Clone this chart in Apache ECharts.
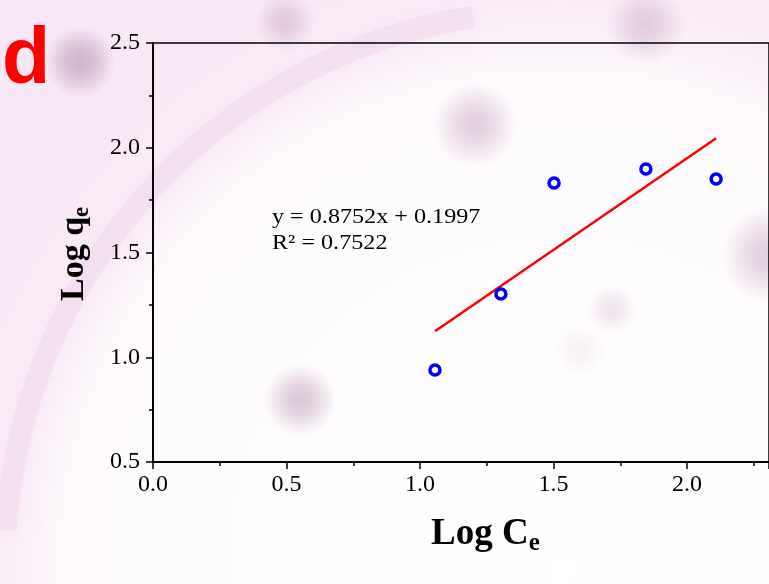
<!DOCTYPE html>
<html><head><meta charset="utf-8">
<script src="https://cdn.jsdelivr.net/npm/echarts@6/dist/echarts.min.js"></script>
<style>html,body{margin:0;padding:0;background:#fcf4fa}#c{width:769px;height:584px}</style>
</head><body><div id="c"></div>
<script>
// Data
const logCe = [1.056, 1.303, 1.502, 1.846, 2.109];
const logQe = [0.939, 1.302, 1.832, 1.899, 1.851];
const fitX = [1.056, 2.109];
const fitY = [1.124, 2.045];
const xTicks = ['0.0', '0.5', '1.0', '1.5', '2.0'];
const yTicks = ['0.5', '1.0', '1.5', '2.0', '2.5'];
const eqLines = ['y = 0.8752x + 0.1997', 'R² = 0.7522'];

const chart = echarts.init(document.getElementById('c'), null, {renderer: 'canvas'});
const serif = 'Liberation Serif';

function blob(x, y, r, rgb, a) {
  return {type: 'circle', silent: true, z: -10, shape: {cx: x, cy: y, r: r},
    style: {fill: new echarts.graphic.RadialGradient(0.5, 0.5, 0.5, [
      {offset: 0, color: 'rgba(' + rgb + ',' + a + ')'},
      {offset: 0.4, color: 'rgba(' + rgb + ',' + (a * 0.75) + ')'},
      {offset: 1, color: 'rgba(' + rgb + ',0)'}])}};
}
const bg = [
  {type: 'rect', silent: true, z: -20, shape: {x: 0, y: 0, width: 769, height: 584},
   style: {fill: '#f8e8f5'}},
  {type: 'circle', silent: true, z: -19, shape: {cx: 560, cy: 570, r: 620},
   style: {fill: new echarts.graphic.RadialGradient(0.5, 0.5, 0.5, [
     {offset: 0, color: 'rgba(255,255,255,1)'}, {offset: 0.8, color: 'rgba(254,251,253,0.95)'},
     {offset: 0.9, color: 'rgba(252,242,250,0.5)'}, {offset: 1, color: 'rgba(252,242,250,0)'}])}},
  {type: 'arc', silent: true, z: -15,
   shape: {cx: 560, cy: 565, r: 555, startAngle: Math.PI * 1.02, endAngle: Math.PI * 1.45},
   style: {stroke: 'rgba(226,185,218,0.22)', lineWidth: 22, fill: null, shadowBlur: 30, shadowColor: 'rgba(226,185,218,0.5)'}},
  blob(80, 62, 36, '185,140,180', 0.6),
  blob(285, 22, 30, '200,160,190', 0.45),
  blob(475, 125, 42, '195,150,185', 0.45),
  blob(645, 25, 40, '200,160,190', 0.45),
  blob(300, 400, 36, '185,145,175', 0.5),
  blob(769, 255, 48, '200,160,190', 0.5),
  blob(612, 310, 24, '215,185,210', 0.4),
  blob(580, 350, 26, '235,220,230', 0.35)
];

chart.setOption({
  backgroundColor: 'transparent',
  animation: false,
  grid: {left: 153, top: 43, right: 0, bottom: 122, show: true, borderColor: '#000', borderWidth: 1.5, backgroundColor: 'transparent'},
  xAxis: {
    type: 'value', min: 0, max: 2.307, interval: 0.5,
    axisLine: {show: true, lineStyle: {color: '#000', width: 2}},
    axisTick: {show: true, length: 7, lineStyle: {color: '#000', width: 1.5}},
    minorTick: {show: true, splitNumber: 2, length: 4, lineStyle: {color: '#000', width: 1.5}},
    splitLine: {show: false},
    axisLabel: {color: '#000', fontFamily: serif, fontSize: 24, margin: 11, showMaxLabel: false,
      formatter: v => { const i = Math.round(v / 0.5); return xTicks[i] !== undefined && Math.abs(v - i * 0.5) < 1e-6 ? xTicks[i] : ''; }}
  },
  yAxis: {
    type: 'value', min: 0.5, max: 2.5, interval: 0.5,
    axisLine: {show: true, lineStyle: {color: '#000', width: 2}},
    axisTick: {show: true, length: 7, lineStyle: {color: '#000', width: 1.5}},
    minorTick: {show: true, splitNumber: 2, length: 4, lineStyle: {color: '#000', width: 1.5}},
    splitLine: {show: false},
    axisLabel: {color: '#000', fontFamily: serif, fontSize: 24, margin: 13,
      formatter: v => { const i = Math.round((v - 0.5) / 0.5); return yTicks[i] !== undefined ? yTicks[i] : ''; }}
  },
  series: [
    {type: 'line', data: fitX.map((x, i) => [x, fitY[i]]), symbol: 'none',
     lineStyle: {color: '#ff0000', width: 2.5}, z: 2},
    {type: 'scatter', data: logCe.map((x, i) => [x, logQe[i]]), symbol: 'circle', symbolSize: 10,
     itemStyle: {color: 'rgba(255,255,255,0)', borderColor: '#0000ff', borderWidth: 3.5, opacity: 1}, z: 3}
  ],
  graphic: bg.concat([
    {type: 'text', x: 2, y: 22, style: {text: 'd', fill: '#ff0000', font: 'bold 79px "Liberation Sans", Arial, sans-serif'}},
    {type: 'text', x: 272, y: 207, scaleX: 1.15, style: {text: eqLines[0], fill: '#000', font: '21px "Liberation Serif"'}},
    {type: 'text', x: 272, y: 233, scaleX: 1.15, style: {text: eqLines[1], fill: '#000', font: '21px "Liberation Serif"'}},
    {type: 'text', x: 431, y: 513, style: {
      text: '{m|Log C}{s|e}', rich: {
        m: {fontFamily: serif, fontWeight: 'bold', fontSize: 37, fill: '#000', color: '#000'},
        s: {fontFamily: serif, fontWeight: 'bold', fontSize: 25, fill: '#000', color: '#000', padding: [18, 0, 0, 0]}}}},
    {type: 'text', x: 55, y: 301, rotation: Math.PI / 2, style: {
      text: '{m|Log q}{s|e}', rich: {
        m: {fontFamily: serif, fontWeight: 'bold', fontSize: 34, fill: '#000', color: '#000'},
        s: {fontFamily: serif, fontWeight: 'bold', fontSize: 23, fill: '#000', color: '#000', padding: [16, 0, 0, 0]}}}}
  ])
});
</script></body></html>
